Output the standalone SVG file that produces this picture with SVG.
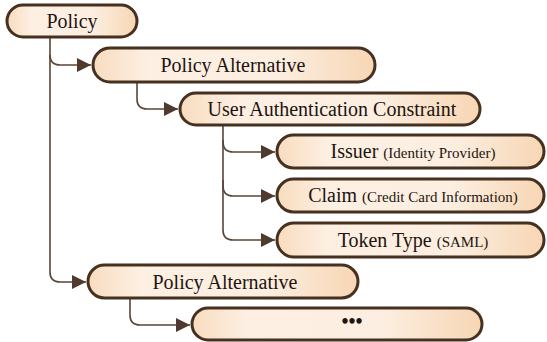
<svg xmlns="http://www.w3.org/2000/svg" width="547" height="342" viewBox="0 0 547 342">
<defs>
<linearGradient id="g" x1="0" y1="0" x2="1" y2="0">
<stop offset="0" stop-color="#f8dcbf"/>
<stop offset="0.2" stop-color="#fdf0e3"/>
<stop offset="0.65" stop-color="#fcefe1"/>
<stop offset="1" stop-color="#f7d6b4"/>
</linearGradient>
<marker id="ah" viewBox="0 0 10 10" refX="10" refY="5" markerWidth="14" markerHeight="14" markerUnits="userSpaceOnUse" orient="auto">
<path d="M0,0 L10,5 L0,10 z" fill="#4e3a2e"/>
</marker>
</defs>
<style>
.box{fill:url(#g);stroke:#46301f;stroke-width:3}
.t{font-family:"Liberation Serif","DejaVu Serif",serif;font-size:20px;fill:#1e1410;text-anchor:middle}
.s{font-size:15px}
.c{fill:none;stroke:#5a4538;stroke-width:1.6}
</style>
<g id="connectors">
<path class="c" d="M50,37 V55 Q50,65 60,65 H91" marker-end="url(#ah)"/>
<path class="c" d="M50,55 V272 Q50,282 60,282 H86" marker-end="url(#ah)"/>
<path class="c" d="M137,82 V99 Q137,109 147,109 H178" marker-end="url(#ah)"/>
<path class="c" d="M223,125 V142 Q223,152 233,152 H275" marker-end="url(#ah)"/>
<path class="c" d="M223,140 V186 Q223,196 233,196 H275" marker-end="url(#ah)"/>
<path class="c" d="M223,180 V230 Q223,240 233,240 H275" marker-end="url(#ah)"/>
<path class="c" d="M130,298 V315 Q130,325 140,325 H190" marker-end="url(#ah)"/>
</g>
<g id="policy">
<rect class="box" x="7" y="5" width="130" height="32" rx="16"/>
<text class="t" x="72" y="28">Policy</text>
</g>
<g id="alt1">
<rect class="box" x="93" y="48" width="282" height="34" rx="17"/>
<text class="t" x="233" y="72">Policy Alternative</text>
</g>
<g id="userauth">
<rect class="box" x="180" y="93" width="300" height="32" rx="16"/>
<text class="t" x="332" y="116">User Authentication Constraint</text>
</g>
<g id="issuer">
<rect class="box" x="277" y="135" width="267" height="33" rx="16.5"/>
<text class="t" x="413" y="158">Issuer <tspan class="s">(Identity Provider)</tspan></text>
</g>
<g id="claim">
<rect class="box" x="277" y="179" width="267" height="33" rx="16.5"/>
<text class="t" x="413" y="202">Claim <tspan class="s">(Credit Card Information)</tspan></text>
</g>
<g id="token">
<rect class="box" x="277" y="223" width="267" height="34" rx="17"/>
<text class="t" x="413" y="247">Token Type <tspan class="s">(SAML)</tspan></text>
</g>
<g id="alt2">
<rect class="box" x="88" y="265" width="270" height="33" rx="16.5"/>
<text class="t" x="225" y="289">Policy Alternative</text>
</g>
<g id="more">
<rect class="box" x="192" y="308" width="290" height="32" rx="16"/>
<text class="t" x="352" y="328" font-size="13" font-weight="bold">•••</text>
</g>
</svg>
